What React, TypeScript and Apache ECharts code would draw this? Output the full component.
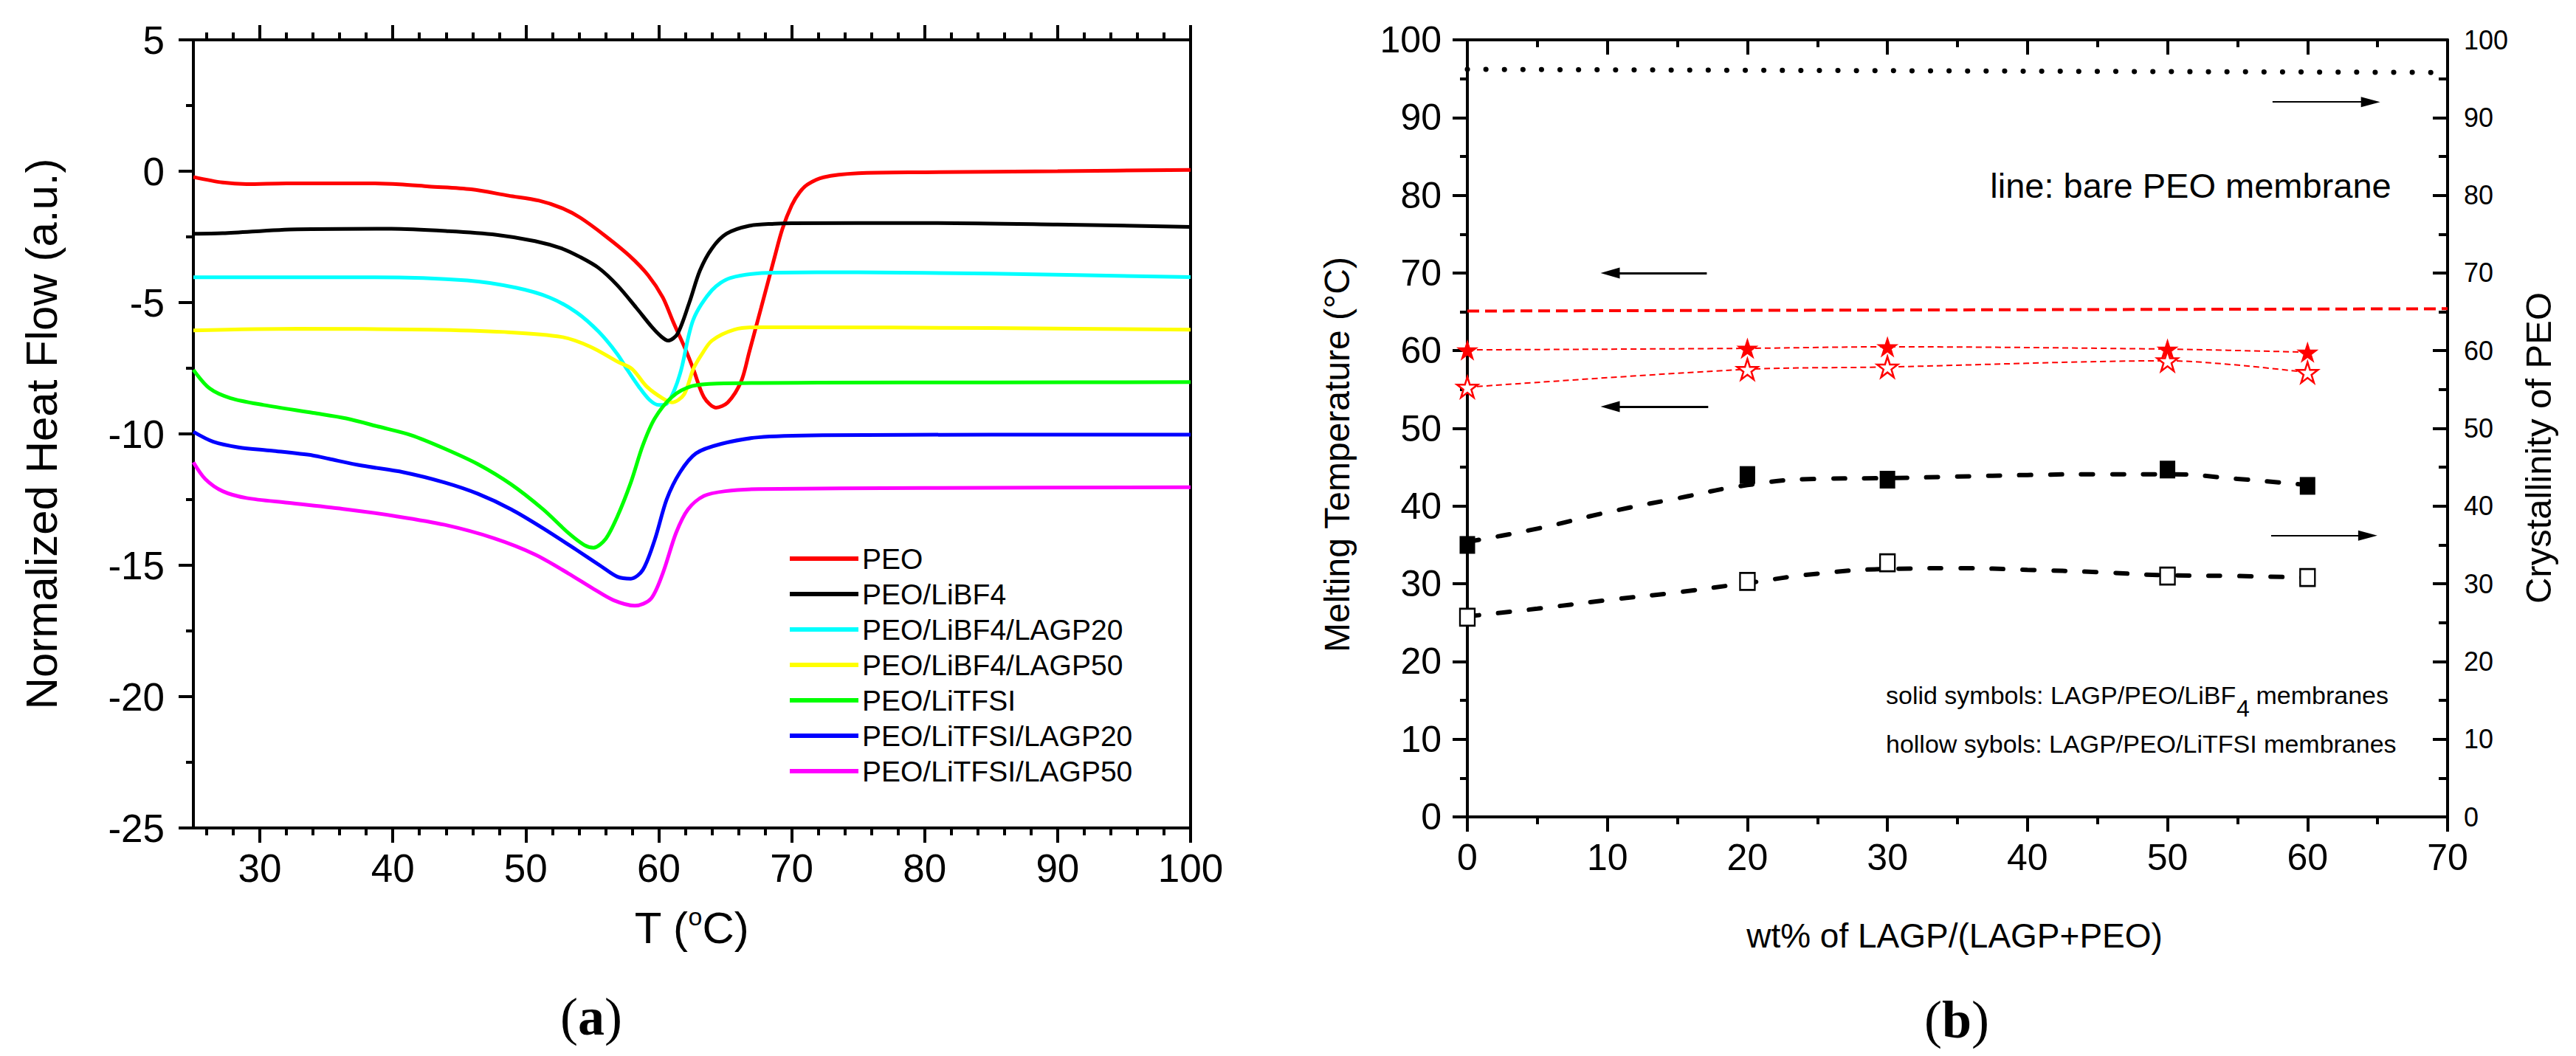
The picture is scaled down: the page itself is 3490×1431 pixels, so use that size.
import React, { useEffect, useRef } from "react";
import * as echarts from "echarts";

// ---------- Panel (a): DSC curves ----------
const peoT = [25, 27.2, 29, 32, 38, 40.5, 42.7, 45.9, 48.7, 51, 52.7, 54.1, 56, 57.8, 59.2, 60.3, 61.1, 62, 62.6, 63.4, 64.3, 65.2, 66.2, 66.8, 67.7, 68.7, 69.3, 70, 70.6, 71.2, 72.4, 75, 80, 90, 100];
const peoV = [-0.22, -0.43, -0.49, -0.46, -0.46, -0.5, -0.58, -0.69, -0.93, -1.12, -1.4, -1.77, -2.47, -3.22, -3.96, -4.8, -5.75, -6.77, -7.53, -8.6, -9.0, -8.8, -8.0, -6.9, -5.2, -3.3, -2.2, -1.3, -0.8, -0.5, -0.23, -0.08, -0.04, 0.0, 0.05];

const libf4T = [25, 27.2, 32.8, 39.9, 44.2, 47.8, 50.7, 52.7, 54.1, 55.5, 56.9, 58.3, 59.5, 60.2, 60.7, 61.4, 62.3, 63.1, 64, 65.1, 66.8, 68.7, 70, 80, 90, 100];
const libf4V = [-2.38, -2.36, -2.21, -2.19, -2.28, -2.42, -2.66, -2.94, -3.27, -3.69, -4.35, -5.19, -5.94, -6.3, -6.45, -6.2, -5.0, -3.78, -2.94, -2.38, -2.08, -2.0, -1.98, -1.97, -2.03, -2.12];

const libf4L20T = [25, 30, 38.5, 45.6, 49.3, 51.8, 53.8, 55.5, 56.9, 57.6, 58.5, 59.3, 60, 60.6, 61.2, 61.7, 62.6, 64, 65.4, 68.7, 75, 85, 100];
const libf4L20V = [-4.04, -4.04, -4.04, -4.16, -4.44, -4.81, -5.37, -6.12, -6.97, -7.53, -8.2, -8.7, -8.9, -8.85, -8.3, -7.53, -5.65, -4.53, -4.06, -3.86, -3.85, -3.9, -4.03];

const libf4L50T = [25, 32.8, 42.7, 48.4, 52.7, 54.9, 56.9, 58, 59.1, 60.3, 61, 61.9, 62.6, 63.2, 64, 65.7, 67.4, 70, 85, 100];
const libf4L50V = [-6.06, -6.0, -6.03, -6.12, -6.31, -6.69, -7.25, -7.53, -8.2, -8.65, -8.8, -8.5, -7.53, -7.0, -6.45, -6.03, -5.94, -5.94, -5.97, -6.03];

const litfsiT = [25, 26.2, 27.8, 30.3, 34, 36.5, 38.9, 41.4, 43.9, 46.4, 48.9, 51.3, 53.2, 54.4, 55.1, 56, 56.9, 57.9, 58.8, 59.7, 61, 62.5, 64.4, 72, 85, 100];
const litfsiV = [-7.56, -8.26, -8.64, -8.9, -9.2, -9.41, -9.72, -10.05, -10.56, -11.15, -11.92, -12.87, -13.77, -14.23, -14.33, -14.0, -13.13, -11.85, -10.44, -9.41, -8.59, -8.18, -8.08, -8.05, -8.04, -8.03];

const litfsiL20T = [25, 26.5, 28.4, 30.9, 34, 35.2, 37.7, 40.8, 43.9, 46.4, 48.9, 51.3, 53.8, 55.7, 56.9, 57.9, 58.8, 59.7, 60.6, 61.6, 62.8, 64.7, 67.5, 72.4, 85, 100];
const litfsiL20V = [-9.92, -10.3, -10.51, -10.64, -10.82, -10.95, -11.21, -11.46, -11.85, -12.28, -12.87, -13.59, -14.41, -15.05, -15.44, -15.51, -15.18, -14.03, -12.49, -11.46, -10.74, -10.38, -10.13, -10.05, -10.03, -10.03];

const litfsiL50T = [25, 25.9, 27.2, 29, 32.1, 36.5, 40.2, 43.9, 47.6, 50.7, 53.2, 55.1, 56.6, 58.2, 59.4, 60.3, 61.3, 62.2, 63.4, 65, 67.5, 80, 100];
const litfsiL50V = [-11.08, -11.72, -12.18, -12.44, -12.62, -12.87, -13.13, -13.46, -13.97, -14.59, -15.31, -15.9, -16.33, -16.54, -16.28, -15.31, -13.77, -12.87, -12.36, -12.18, -12.1, -12.06, -12.03];

const seriesNamesA = ["PEO", "PEO/LiBF4", "PEO/LiBF4/LAGP20", "PEO/LiBF4/LAGP50", "PEO/LiTFSI", "PEO/LiTFSI/LAGP20", "PEO/LiTFSI/LAGP50"];
const seriesColorsA = ["#ff0000", "#000000", "#00ffff", "#ffff00", "#00ff00", "#0000ff", "#ff00ff"];
const seriesXA = [peoT, libf4T, libf4L20T, libf4L50T, litfsiT, litfsiL20T, litfsiL50T];
const seriesYA = [peoV, libf4V, libf4L20V, libf4L50V, litfsiV, litfsiL20V, litfsiL50V];

const xMajorA = [30, 40, 50, 60, 70, 80, 90, 100];
const xMinorA = [26, 28, 32, 34, 36, 38, 42, 44, 46, 48, 52, 54, 56, 58, 62, 64, 66, 68, 72, 74, 76, 78, 82, 84, 86, 88, 92, 94, 96, 98];

// ---------- Panel (b) ----------
const wtPct = [0, 20, 30, 50, 60];
const tmLiBF4 = [60.1, 60.3, 60.5, 60.2, 59.8];
const tmLiTFSI = [55.3, 57.6, 57.9, 58.7, 57.2];
const xcLiBF4 = [35.0, 44.0, 43.4, 44.7, 42.6];
const xcLiTFSI = [25.7, 30.3, 32.7, 31.0, 30.8];

const fitX = [0, 5, 10, 15, 20, 25, 30, 35, 40, 45, 50, 55, 60];
const fitLiBF4 = [35.4, 37.1, 39.2, 41.0, 42.7, 43.5, 43.6, 43.8, 44.0, 44.1, 44.1, 43.5, 42.7];
const fitLiTFSI = [25.8, 26.8, 27.9, 28.9, 30.1, 31.3, 31.9, 32.0, 31.8, 31.5, 31.1, 31.0, 30.8];

const bareX = [0, 70];
const bareTm = [65.1, 65.4];
const bareXc = [96.2, 95.8];

const zip = (xs: number[], ys: number[]) => xs.map((x, i) => [x, ys[i]]);

const BLACK = "#000000";
const RED = "#ff0000";
const FONT = '"Liberation Sans", Arial, sans-serif';
const SERIF = '"Liberation Serif", "Times New Roman", serif';
const STAR = "path://M50,0 L61.2,34.5 L97.6,34.5 L68.2,55.9 L79.4,90.5 L50,69.1 L20.6,90.5 L31.8,55.9 L2.4,34.5 L38.8,34.5 Z";

const axLine = { show: true, onZero: false, lineStyle: { color: BLACK, width: 4 } };
const tickStyle = { color: BLACK, width: 4 };
const noSplit = { show: false };

function buildOption() {
  const seriesA = seriesNamesA.map((name, i) => ({
    name,
    type: "line",
    xAxisIndex: 0,
    yAxisIndex: 0,
    data: zip(seriesXA[i], seriesYA[i]),
    color: seriesColorsA[i],
    itemStyle: { color: seriesColorsA[i] },
    lineStyle: { color: seriesColorsA[i], width: 5 },
    symbol: "none",
    showSymbol: false,
    smooth: 0.3,
    clip: true,
  }));

  const seriesB: any[] = [
    {
      name: "bareXc",
      type: "line",
      xAxisIndex: 4,
      yAxisIndex: 3,
      data: zip(bareX, bareXc),
      symbol: "none",
      lineStyle: { color: BLACK, width: 7, type: [0.1, 25], cap: "round" },
      markLine: {
        silent: true,
        symbol: ["none", "triangle"],
        symbolSize: [14, 26],
        label: { show: false },
        lineStyle: { color: BLACK, width: 2, type: "solid" },
        data: [
          [{ coord: [57.5, 92] }, { coord: [64.5, 92] }],
          [{ coord: [57.4, 36.2] }, { coord: [64.3, 36.2] }],
        ],
      },
    },
    {
      name: "bareTm",
      type: "line",
      xAxisIndex: 4,
      yAxisIndex: 2,
      data: zip(bareX, bareTm),
      symbol: "none",
      lineStyle: { color: RED, width: 4, type: [16, 8] },
      markLine: {
        silent: true,
        symbol: ["none", "triangle"],
        symbolSize: [15, 26],
        label: { show: false },
        lineStyle: { color: BLACK, width: 3, type: "solid" },
        data: [
          [{ coord: [17.1, 70] }, { coord: [10.2, 70] }],
          [{ coord: [17.2, 52.8] }, { coord: [10.2, 52.8] }],
        ],
      },
    },
    {
      name: "tmLiBF4",
      type: "line",
      xAxisIndex: 4,
      yAxisIndex: 2,
      data: zip(wtPct, tmLiBF4),
      smooth: 0.3,
      symbol: STAR,
      symbolSize: [30, 29],
      itemStyle: { color: RED, opacity: 1 },
      lineStyle: { color: RED, width: 2, type: [8, 5] },
      z: 4,
    },
    {
      name: "tmLiTFSI",
      type: "line",
      xAxisIndex: 4,
      yAxisIndex: 2,
      data: zip(wtPct, tmLiTFSI),
      smooth: 0.3,
      symbol: STAR,
      symbolSize: [28, 28],
      itemStyle: { color: "#ffffff", borderColor: RED, borderWidth: 2.5, opacity: 1 },
      lineStyle: { color: RED, width: 2, type: [8, 5] },
      z: 4,
    },
    {
      name: "fitLiBF4",
      type: "line",
      xAxisIndex: 4,
      yAxisIndex: 3,
      data: zip(fitX, fitLiBF4),
      smooth: true,
      symbol: "none",
      lineStyle: { color: BLACK, width: 6, type: [16, 26], cap: "round" },
    },
    {
      name: "fitLiTFSI",
      type: "line",
      xAxisIndex: 4,
      yAxisIndex: 3,
      data: zip(fitX, fitLiTFSI),
      smooth: true,
      symbol: "none",
      lineStyle: { color: BLACK, width: 6, type: [16, 26], cap: "round" },
    },
    {
      name: "xcLiBF4",
      type: "scatter",
      xAxisIndex: 4,
      yAxisIndex: 3,
      data: zip(wtPct, xcLiBF4),
      symbol: "rect",
      symbolSize: [21, 24],
      itemStyle: { color: BLACK, opacity: 1 },
      z: 5,
    },
    {
      name: "xcLiTFSI",
      type: "scatter",
      xAxisIndex: 4,
      yAxisIndex: 3,
      data: zip(wtPct, xcLiTFSI),
      symbol: "rect",
      symbolSize: [20, 23],
      itemStyle: { color: "#ffffff", borderColor: BLACK, borderWidth: 2.5, opacity: 1 },
      z: 5,
    },
  ];

  const txt = (x: number, y: number, text: string, size: number, extra: any = {}) => ({
    type: "text",
    x,
    y,
    silent: true,
    ...extra,
    style: {
      text,
      fill: BLACK,
      fontSize: size,
      fontFamily: FONT,
      align: "center",
      verticalAlign: "middle",
      ...(extra.style || {}),
    },
  });

  return {
    animation: false,
    backgroundColor: "#ffffff",
    grid: [
      { left: 262, top: 54, width: 1351, height: 1068, containLabel: false, outerBoundsMode: "none" },
      { left: 1988, top: 54, width: 1328, height: 1053, containLabel: false, outerBoundsMode: "none" },
    ],
    legend: {
      data: seriesNamesA,
      orient: "vertical",
      left: 1070,
      top: 737,
      padding: 0,
      itemWidth: 93,
      itemHeight: 6,
      itemGap: 8,
      icon: "rect",
      selectedMode: false,
      textStyle: { fontSize: 39, fontFamily: FONT, color: BLACK, lineHeight: 40 },
    },
    xAxis: [
      {
        gridIndex: 0, type: "value", min: 25, max: 100, position: "bottom",
        axisLine: axLine,
        axisTick: { show: true, customValues: xMajorA, length: 20, lineStyle: tickStyle },
        axisLabel: { customValues: xMajorA, margin: 28, fontSize: 53, fontFamily: FONT, color: BLACK },
        splitLine: noSplit,
      },
      {
        gridIndex: 0, type: "value", min: 25, max: 100, position: "bottom",
        axisLine: { show: false, onZero: false },
        axisTick: { show: true, customValues: xMinorA, length: 10, lineStyle: tickStyle },
        axisLabel: { show: false },
        splitLine: noSplit,
      },
      {
        gridIndex: 0, type: "value", min: 25, max: 100, position: "top",
        axisLine: axLine,
        axisTick: { show: true, customValues: xMajorA, length: 20, lineStyle: tickStyle },
        axisLabel: { show: false },
        splitLine: noSplit,
      },
      {
        gridIndex: 0, type: "value", min: 25, max: 100, position: "top",
        axisLine: { show: false, onZero: false },
        axisTick: { show: true, customValues: xMinorA, length: 10, lineStyle: tickStyle },
        axisLabel: { show: false },
        splitLine: noSplit,
      },
      {
        gridIndex: 1, type: "value", min: 0, max: 70, interval: 10, position: "bottom",
        axisLine: axLine,
        axisTick: { show: true, length: 20, lineStyle: tickStyle },
        minorTick: { show: true, splitNumber: 2, length: 10, lineStyle: tickStyle },
        axisLabel: { margin: 30, fontSize: 50, fontFamily: FONT, color: BLACK, showMinLabel: true, showMaxLabel: true },
        splitLine: noSplit,
        minorSplitLine: { show: false },
      },
      {
        gridIndex: 1, type: "value", min: 0, max: 70, interval: 10, position: "top",
        axisLine: axLine,
        axisTick: { show: true, inside: true, length: 20, lineStyle: tickStyle },
        minorTick: { show: true, splitNumber: 2, length: 10, lineStyle: tickStyle },
        axisLabel: { show: false },
        splitLine: noSplit,
        minorSplitLine: { show: false },
      },
    ],
    yAxis: [
      {
        gridIndex: 0, type: "value", min: -25, max: 5, interval: 5, position: "left",
        axisLine: axLine,
        axisTick: { show: true, length: 20, lineStyle: tickStyle },
        minorTick: { show: true, splitNumber: 2, length: 10, lineStyle: tickStyle },
        axisLabel: { margin: 39, fontSize: 53, fontFamily: FONT, color: BLACK, showMinLabel: true, showMaxLabel: true },
        splitLine: noSplit,
        minorSplitLine: { show: false },
      },
      {
        gridIndex: 0, type: "value", min: -25, max: 5, interval: 5, position: "right",
        axisLine: axLine,
        axisTick: { show: false },
        axisLabel: { show: false },
        splitLine: noSplit,
      },
      {
        gridIndex: 1, type: "value", min: 0, max: 100, interval: 10, position: "left",
        axisLine: axLine,
        axisTick: { show: true, length: 20, lineStyle: tickStyle },
        minorTick: { show: true, splitNumber: 2, length: 10, lineStyle: tickStyle },
        axisLabel: { margin: 35, fontSize: 50, fontFamily: FONT, color: BLACK, showMinLabel: true, showMaxLabel: true },
        splitLine: noSplit,
        minorSplitLine: { show: false },
      },
      {
        gridIndex: 1, type: "value", min: 0, max: 100, interval: 10, position: "right",
        axisLine: axLine,
        axisTick: { show: true, inside: true, length: 20, lineStyle: tickStyle },
        minorTick: { show: true, splitNumber: 2, length: 12, lineStyle: tickStyle },
        axisLabel: { margin: 22, fontSize: 36, fontFamily: FONT, color: BLACK, showMinLabel: true, showMaxLabel: true },
        splitLine: noSplit,
        minorSplitLine: { show: false },
      },
    ],
    series: [...seriesA, ...seriesB],
    graphic: [
      txt(56, 588, "Normalized Heat Flow (a.u.)", 60, { rotation: Math.PI / 2 }),
      {
        type: "text", x: 937, y: 1257, silent: true,
        style: {
          text: "T ({s|o}C)", fill: BLACK, fontSize: 60, fontFamily: FONT, lineHeight: 64,
          align: "center", verticalAlign: "middle",
          rich: { s: { fontSize: 34, fontFamily: FONT, fill: BLACK, verticalAlign: "top", lineHeight: 34 } },
        },
      },
      {
        type: "text", x: 801, y: 1378, silent: true,
        style: {
          text: "({b|a})", fill: BLACK, fontSize: 72, fontFamily: SERIF,
          align: "center", verticalAlign: "middle",
          rich: { b: { fontSize: 72, fontFamily: SERIF, fontWeight: "bold", fill: BLACK } },
        },
      },
      {
        type: "text", x: 2651, y: 1382, silent: true,
        style: {
          text: "({b|b})", fill: BLACK, fontSize: 72, fontFamily: SERIF,
          align: "center", verticalAlign: "middle",
          rich: { b: { fontSize: 72, fontFamily: SERIF, fontWeight: "bold", fill: BLACK } },
        },
      },
      txt(1811, 616, "Melting Temperature (°C)", 48, { rotation: Math.PI / 2 }),
      txt(3439, 607, "Crystallinity of PEO", 49, { rotation: Math.PI / 2 }),
      txt(2648, 1268, "wt% of LAGP/(LAGP+PEO)", 46),
      txt(2968, 251, "line: bare PEO membrane", 47),
      txt(2555, 942, "solid symbols: LAGP/PEO/LiBF", 34, { style: { align: "left" } }),
      txt(3030, 960, "4", 32, { style: { align: "left" } }),
      txt(3236, 942, "membranes", 34, { style: { align: "right" } }),
      txt(2555, 1008, "hollow sybols: LAGP/PEO/LiTFSI membranes", 34, { style: { align: "left" } }),
    ],
  };
}

export default function App() {
  const ref = useRef<HTMLDivElement>(null);
  useEffect(() => {
    document.body.style.margin = "0";
    document.body.style.overflow = "hidden";
    if (!ref.current) return;
    const chart = echarts.init(ref.current, null, { renderer: "svg" });
    chart.setOption(buildOption() as any);
    return () => chart.dispose();
  }, []);
  return <div ref={ref} style={{ width: 3490, height: 1431, background: "#fff" }} />;
}
